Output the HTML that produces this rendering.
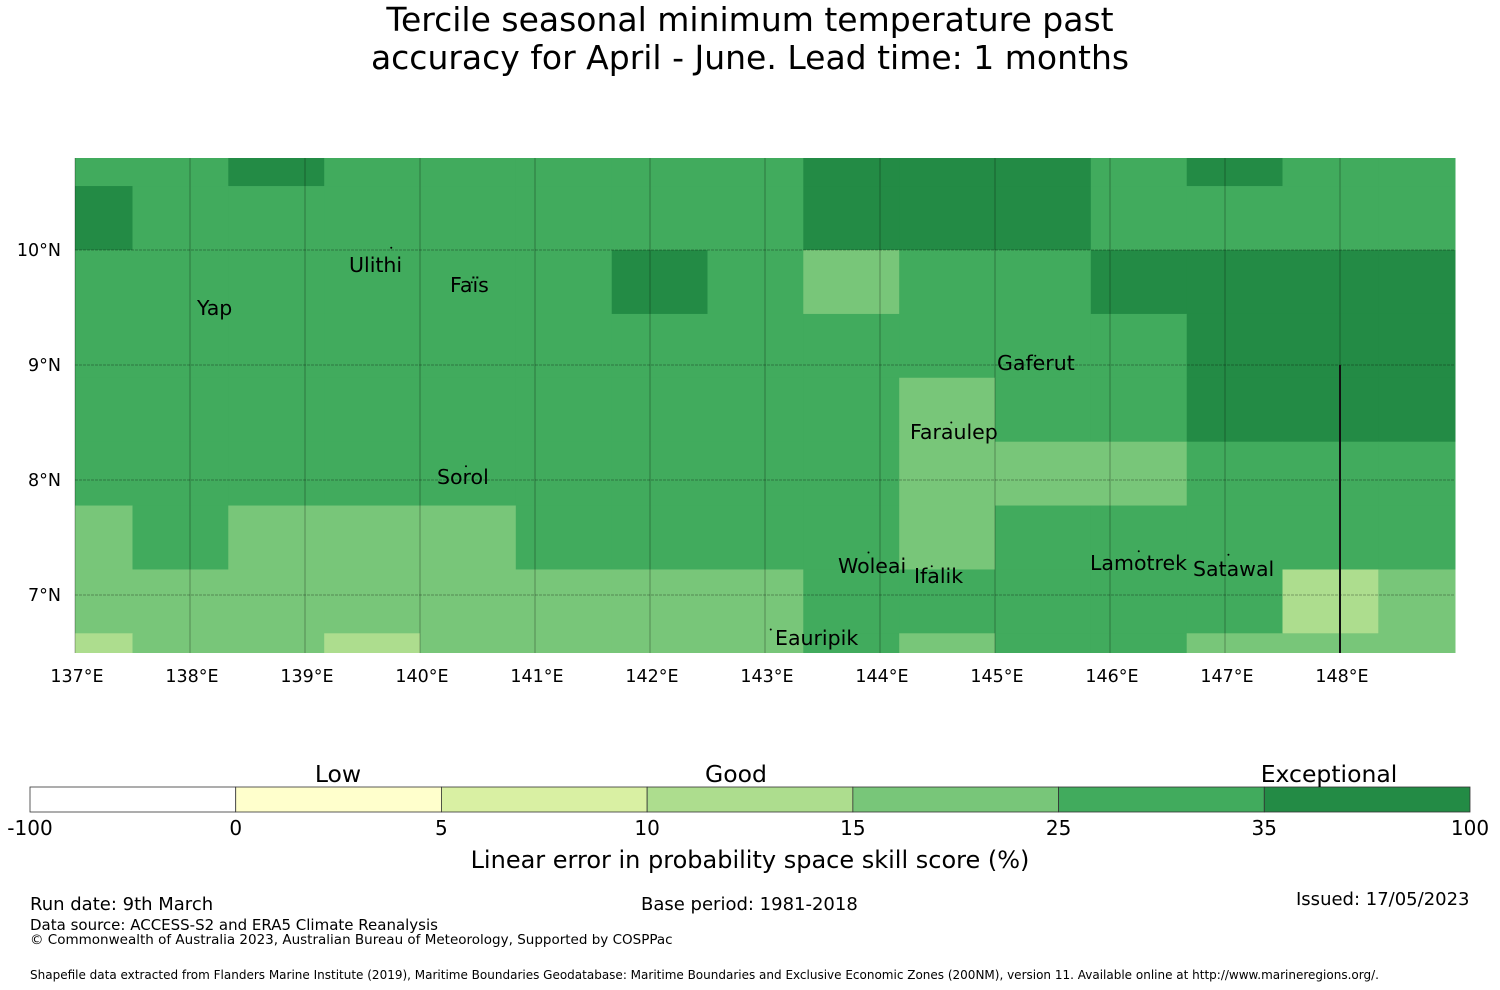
<!DOCTYPE html>
<html><head><meta charset="utf-8"><style>
body{margin:0;background:#fff;font-family:"DejaVu Sans","Liberation Sans",sans-serif;}
#wrap{position:relative;width:1500px;height:990px;overflow:hidden;}
.t{position:absolute;white-space:nowrap;color:#000;}
</style></head><body>
<div id="wrap">
<div class="t" style="left:0;width:1500px;text-align:center;top:1px;font-size:33px;line-height:38px;">Tercile seasonal minimum temperature past<br>accuracy for April - June. Lead time: 1 months</div>
<svg id="svg" width="1500" height="990" style="position:absolute;left:0;top:0"></svg>
<div class="t" style="left:30px;top:894px;font-size:18px;">Run date: 9th March</div>
<div class="t" style="left:641px;top:894px;font-size:18px;">Base period: 1981-2018</div>
<div class="t" style="left:1296px;top:889px;font-size:18px;">Issued: 17/05/2023</div>
<div class="t" style="left:30px;top:916px;font-size:15px;">Data source: ACCESS-S2 and ERA5 Climate Reanalysis</div>
<div class="t" style="left:30px;top:932px;font-size:13.5px;">© Commonwealth of Australia 2023, Australian Bureau of Meteorology, Supported by COSPPac</div>
<div class="t" style="left:30px;top:968px;font-size:12px;">Shapefile data extracted from Flanders Marine Institute (2019), Maritime Boundaries Geodatabase: Maritime Boundaries and Exclusive Economic Zones (200NM), version 11. Available online at http://www.marineregions.org/.</div>
</div>
<script>
const colEdges=[137,137.5,138.333,139.167,140,140.833,141.667,142.5,143.333,144.167,145,145.833,146.667,147.5,148.333,149];
const rowEdges=[10.8,10.556,10,9.444,8.889,8.333,7.778,7.222,6.667,6.5];
const r0=[30,30,40,30,30,30,30,30,40,40,40,30,40,30,30];
const r1=[40,30,30,30,30,30,30,30,40,40,40,30,30,30,30];
const r2=[30,30,30,30,30,30,40,30,20,30,30,40,40,40,40];
const r3=[30,30,30,30,30,30,30,30,30,30,30,30,40,40,40];
const r4=[30,30,30,30,30,30,30,30,30,20,30,30,40,40,40];
const r5=[30,30,30,30,30,30,30,30,30,20,20,20,30,30,30];
const r6=[20,30,20,20,20,30,30,30,30,20,30,30,30,30,30];
const r7=[20,20,20,20,20,20,20,20,30,30,30,30,30,12,20];
const r8=[12,20,20,12,20,20,20,20,30,20,30,30,20,20,20];
const grid=[r0,r1,r2,r3,r4,r5,r6,r7,r8];
const cbTicks=["-100","0","5","10","15","25","35","100"];
const cbColors=["#ffffff","#ffffcc","#d9f0a3","#addd8e","#78c679","#41ab5d","#238b45"];
const cbBounds=[-100,0,5,10,15,25,35,100];
const lonTicks=[137,138,139,140,141,142,143,144,145,146,147,148];
const latTicks=[10,9,8,7];
// name, island lon, island lat, label x px, label baseline px
const places=[["Ulithi",139.75,10.02,349,272],["Faïs",140.45,9.72,450,292],["Yap",138.1,9.52,197,315],["Gaferut",145.35,9.08,997,370],["Faraulep",144.62,8.5,910,439],["Sorol",140.4,8.12,437,484],["Woleai",143.9,7.37,838,573],["Ifalik",144.45,7.25,914,583],["Lamotrek",146.25,7.38,1090,570],["Satawal",147.03,7.35,1193,576],["Eauripik",143.05,6.7,775,645]];
const X=lon=>75+(lon-137)*115;
const Y=lat=>250+(10-lat)*115;
const NS="http://www.w3.org/2000/svg";
const svg=document.getElementById('svg');
function mk(t,a){const e=document.createElementNS(NS,t);for(const k in a)e.setAttribute(k,a[k]);svg.appendChild(e);return e;}
function col(v){for(let i=cbBounds.length-2;i>=0;i--)if(v>=cbBounds[i])return cbColors[i];return cbColors[0];}
grid.forEach((row,ri)=>row.forEach((v,ci)=>{
 const x0=X(colEdges[ci]),x1=X(colEdges[ci+1]),y0=Y(rowEdges[ri]),y1=Y(rowEdges[ri+1]);
 const e=mk('rect',{x:x0,y:y0,width:x1-x0+0.5,height:y1-y0+0.5,fill:col(v)});
 
 
}));
lonTicks.forEach(l=>{const e=mk('line',{x1:X(l),x2:X(l),y1:158,y2:653,stroke:'rgba(0,0,0,0.2)','stroke-width':1.5});
 
 const t=mk('text',{x:X(l)+2,y:682,'font-size':17.5,'text-anchor':'middle','font-family':'DejaVu Sans, sans-serif'});t.textContent=l+'°E';
 });
latTicks.forEach(l=>{const e=mk('line',{x1:75,x2:1455,y1:Y(l),y2:Y(l),stroke:'rgba(0,0,0,0.3)','stroke-width':1,'stroke-dasharray':'3 1'});
 
 const t=mk('text',{x:61,y:Y(l)+6,'font-size':17.5,'text-anchor':'end','font-family':'DejaVu Sans, sans-serif'});t.textContent=l+'°N';
 });
const b=mk('line',{x1:X(148),x2:X(148),y1:Y(9),y2:653,stroke:'#111','stroke-width':2});

places.forEach(p=>{const d=mk('circle',{cx:X(p[1]),cy:Y(p[2]),r:1,fill:'#000'});
 
 const t=mk('text',{x:p[3],y:p[4],'font-size':20.5,'font-family':'DejaVu Sans, sans-serif'});t.textContent=p[0];
 });
const cw=1440/7;
cbColors.forEach((c,i)=>{const e=mk('rect',{x:30+i*cw,y:787,width:cw,height:25,fill:c,stroke:'#333','stroke-width':0.8});
 });
cbTicks.forEach((t,i)=>{const e=mk('text',{x:30+i*cw,y:835,'font-size':20,'text-anchor':'middle','font-family':'DejaVu Sans, sans-serif'});e.textContent=t;
 });
[["Low",338],["Good",736],["Exceptional",1329]].forEach(a=>{const e=mk('text',{x:a[1],y:782,'font-size':23.5,'text-anchor':'middle','font-family':'DejaVu Sans, sans-serif'});e.textContent=a[0];
 });
const ct=mk('text',{x:750,y:868,'font-size':24,'text-anchor':'middle','font-family':'DejaVu Sans, sans-serif'});ct.textContent='Linear error in probability space skill score (%)';

</script>
</body></html>
